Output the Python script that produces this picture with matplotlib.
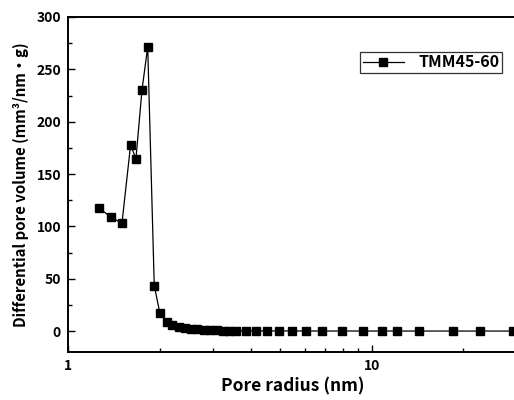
import matplotlib
matplotlib.use("Agg")
import matplotlib.pyplot as plt
from matplotlib.ticker import FixedLocator, NullFormatter, MultipleLocator

# Data
pore_radius = [1.265, 1.382, 1.505, 1.607, 1.673, 1.751, 1.829, 1.922, 2.006,
               2.112, 2.198, 2.313, 2.420, 2.545, 2.663, 2.802, 2.932, 3.084,
               3.228, 3.393, 3.561, 3.841, 4.144, 4.513, 4.944, 5.443, 6.052,
               6.873, 7.965, 9.363, 10.79, 12.06, 14.33, 18.51, 22.66, 29.16]
diff_volume = [117.5, 109.0, 103.0, 178.0, 164.5, 230.0, 271.5, 43.5, 17.0,
               8.5, 5.5, 3.8, 2.8, 2.1, 1.6, 1.2, 0.9, 0.7,
               0.5, 0.4, 0.3, 0.25, 0.2, 0.15, 0.12, 0.1, 0.08,
               0.06, 0.05, 0.04, 0.03, 0.03, 0.02, 0.02, 0.01, 0.01]
series_label = "TMM45-60"
x_major_ticks = [1, 10]
x_major_labels = ["1", "10"]
y_ticks = [0, 50, 100, 150, 200, 250, 300]

plt.rcParams['font.family'] = ['Noto Sans CJK JP', 'DejaVu Sans']
plt.rcParams['font.weight'] = 'bold'

fig = plt.figure(figsize=(5.14, 4.00), dpi=100)
ax = fig.add_axes([68/514, 48/400, (517-68)/514, (352-17)/400])

ax.plot(pore_radius, diff_volume, color='black', lw=0.9, marker='s',
        markersize=5.8, markerfacecolor='black', markeredgecolor='black',
        label=series_label)

ax.set_xscale('log')
ax.set_xlim(1, 30)
ax.set_ylim(-20, 300)

ax.xaxis.set_major_locator(FixedLocator(x_major_ticks))
ax.set_xticklabels(x_major_labels)
ax.xaxis.set_minor_locator(FixedLocator([2, 3, 4, 5, 6, 7, 8, 9, 20]))
ax.xaxis.set_minor_formatter(NullFormatter())
ax.yaxis.set_major_locator(FixedLocator(y_ticks))
ax.yaxis.set_minor_locator(MultipleLocator(25))

ax.tick_params(which='both', direction='in', top=False, right=False,
               labelsize=10, width=1.0)
ax.tick_params(which='major', length=5, pad=5)
ax.tick_params(which='minor', length=3)
for lab in ax.get_xticklabels() + ax.get_yticklabels():
    lab.set_fontweight('bold')

for sp in ax.spines.values():
    sp.set_linewidth(1.4)

ax.set_xlabel("Pore radius (nm)", fontsize=12.5, fontweight='bold', labelpad=3)
ax.set_ylabel("Differential pore volume (mm³/nm・g)", fontsize=10.8,
              fontweight='bold', labelpad=5)

leg = ax.legend(loc='upper right', bbox_to_anchor=((502-68)/449, 1 - (52-17)/335),
                bbox_transform=ax.transAxes, borderaxespad=0.0,
                fancybox=False, frameon=True,
                edgecolor='black', prop={'weight': 'bold', 'size': 11.5},
                handlelength=2.6, borderpad=0.15, handletextpad=0.9)
leg.get_frame().set_linewidth(0.9)

fig.savefig("out.png", dpi=100)
